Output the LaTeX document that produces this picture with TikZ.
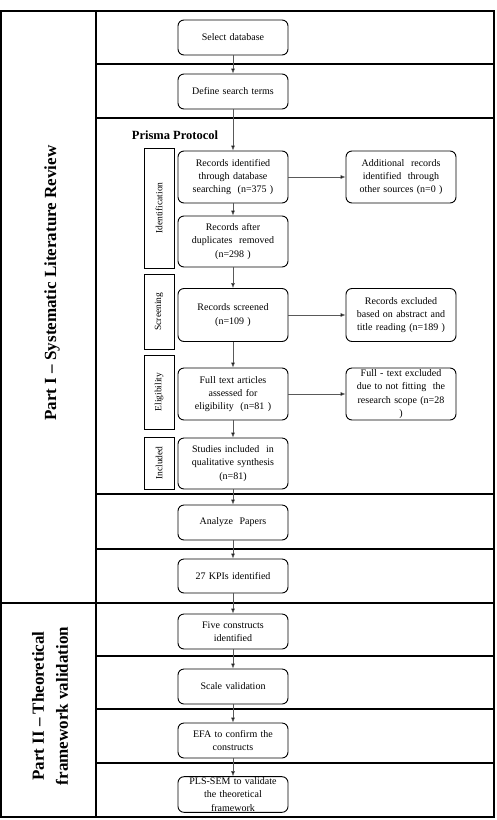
\documentclass[tikz,border=0pt]{standalone}
\usepackage{fontspec}
\setmainfont{Liberation Serif}
\usetikzlibrary{arrows.meta}
\begin{document}
\begin{tikzpicture}[x=1pt,y=-1pt,
  box/.style={draw=black, line width=0.9pt, rounded corners=6pt, minimum width=110pt, text width=104pt, align=center, inner sep=1pt, font=\fontsize{10}{13.3}\selectfont},
  sidebox/.style={draw=black, line width=0.9pt, rotate=90, minimum height=30pt, inner sep=1pt, font=\fontsize{9.5}{11}\selectfont},
  flow/.style={draw=black!65, line width=0.6pt, -{Latex[length=5pt,width=4pt,fill=black]}},
  frame/.style={draw=black, line width=1.6pt},
  row/.style={draw=black, line width=1.2pt},
  part/.style={font=\fontsize{17}{24}\selectfont\bfseries, align=center, rotate=90}
]
\useasboundingbox (0,0) rectangle (496,820);
\fill[white] (0,0) rectangle (496,820);
% frame
\draw[frame] (1,11) rectangle (494,817);
\draw[frame] (96,11) -- (96,817);
\draw[frame] (1,603) -- (494,603);
\foreach \yy in {64,118,494,549,656,709,763} {\draw[row] (96,\yy) -- (494,\yy);}
% part labels
\node[part] (p1) at (52,283) {Part I – Systematic Literature Review};
\node[part] (p2) at (50,706) {Part II – Theoretical\\framework validation};
% top boxes
\node[box, minimum height=35pt] (sel) at (233,37.5) {Select database};
\node[box, minimum height=35pt] (def) at (233,91.5) {Define search terms};
\node[font=\fontsize{12.5}{14}\selectfont\bfseries] (prisma) at (175,135) {Prisma Protocol};
% side labels
\node[sidebox, minimum width=120pt] (sid) at (159,208) {Identification};
\node[sidebox, minimum width=75pt] (ssc) at (159,311.5) {Screening};
\node[sidebox, minimum width=74pt] (sel2) at (159,392) {Eligibility};
\node[sidebox, minimum width=52pt] (sin) at (159,463) {Included};
% prisma main boxes
\node[box, minimum height=52pt] (rid) at (233,177) {Records identified\\through database\\searching~ (n=375 )};
\node[box, minimum height=51pt] (dup) at (233,241.5) {Records after\\duplicates~ removed\\(n=298 )};
\node[box, minimum height=53pt] (scr) at (233,315) {Records screened\\(n=109 )};
\node[box, minimum height=52pt] (ft) at (233,394) {Full text articles\\assessed for\\eligibility~ (n=81 )};
\node[box, minimum height=51pt] (inc) at (233,463.5) {Studies included~ in\\qualitative synthesis\\(n=81)};
% right boxes
\node[box, minimum height=52pt] (add) at (401,177) {Additional~ records\\identified~ through\\other sources (n=0 )};
\node[box, minimum height=53pt] (exc) at (401,315) {Records excluded\\based on abstract and\\title reading (n=189 )};
\node[box, minimum height=52pt] (ftx) at (401,394) {Full - text excluded\\due to not fitting~ the\\research scope (n=28\\)};
% lower boxes
\node[box, minimum height=35pt] (ana) at (233,522.5) {Analyze~ Papers};
\node[box, minimum height=34pt] (kpi) at (233,576) {27 KPIs identified};
\node[box, minimum height=35pt] (five) at (233,631.5) {Five constructs\\identified};
\node[box, minimum height=35pt] (scale) at (233,686.5) {Scale validation};
\node[box, minimum height=35pt] (efa) at (233,740.5) {EFA to confirm the\\constructs};
\node[box, minimum height=35pt] (pls) at (233,794.5) {PLS-SEM to validate\\the theoretical\\framework};
% arrows
\draw[flow] (sel) -- (def);
\draw[flow] (def) -- (rid);
\draw[flow] (rid) -- (dup);
\draw[flow] (dup) -- (scr);
\draw[flow] (scr) -- (ft);
\draw[flow] (ft) -- (inc);
\draw[flow] (inc) -- (ana);
\draw[flow] (ana) -- (kpi);
\draw[flow] (kpi) -- (five);
\draw[flow] (five) -- (scale);
\draw[flow] (scale) -- (efa);
\draw[flow] (efa) -- (pls);
\draw[flow] (rid) -- (add);
\draw[flow] (scr) -- (exc);
\draw[flow] (ft) -- (ftx);
\end{tikzpicture}
\end{document}
